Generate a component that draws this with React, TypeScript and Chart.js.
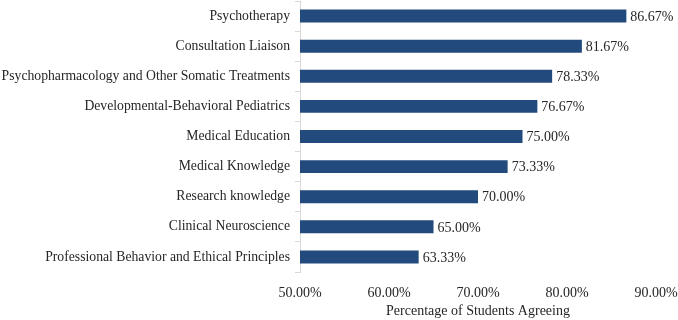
import React, { useEffect, useRef } from "react";
import { Chart, registerables } from "chart.js";

Chart.register(...registerables);

const categories = [
  "Psychotherapy",
  "Consultation Liaison",
  "Psychopharmacology and Other Somatic Treatments",
  "Developmental-Behavioral Pediatrics",
  "Medical Education",
  "Medical Knowledge",
  "Research knowledge",
  "Clinical Neuroscience",
  "Professional Behavior and Ethical Principles",
];
const values = [86.67, 81.67, 78.33, 76.67, 75.0, 73.33, 70.0, 65.0, 63.33];
const xMin = 50;
const xMax = 90;
const xStep = 10;
const xTitle = "Percentage of Students Agreeing";

const FONT = "'Liberation Serif', 'Times New Roman', serif";

const valueLabels = {
  id: "valueLabels",
  afterDatasetsDraw(chart: any) {
    const ctx = chart.ctx;
    const meta = chart.getDatasetMeta(0);
    ctx.save();
    ctx.font = `14px ${FONT}`;
    ctx.fillStyle = "#262626";
    ctx.textAlign = "left";
    ctx.textBaseline = "middle";
    meta.data.forEach((bar: any, i: number) => {
      const v = chart.data.datasets[0].data[i] as number;
      ctx.fillText(v.toFixed(2) + "%", bar.x + 4, bar.y + 1);
    });
    ctx.restore();
  },
};

export default function App() {
  const ref = useRef<HTMLCanvasElement>(null);
  useEffect(() => {
    if (!ref.current) return;
    const chart = new Chart(ref.current, {
      type: "bar",
      data: {
        labels: categories,
        datasets: [
          {
            data: values,
            backgroundColor: "#234a7c",
            borderWidth: 0,
            barPercentage: 0.86,
            categoryPercentage: 0.5,
          },
        ],
      },
      options: {
        indexAxis: "y",
        animation: false,
        responsive: false,
        maintainAspectRatio: false,
        layout: { padding: { top: 1, right: 22, left: 0, bottom: 0 } },
        plugins: {
          legend: { display: false },
          tooltip: { enabled: false },
        },
        scales: {
          x: {
            min: xMin,
            max: xMax,
            ticks: {
              stepSize: xStep,
              color: "#262626",
              font: { family: FONT, size: 14 },
              padding: 5,
              callback: (v: any) => Number(v).toFixed(2) + "%",
              maxRotation: 0,
            },
            grid: { display: false },
            border: { display: false },
            title: {
              display: true,
              text: xTitle,
              color: "#262626",
              font: { family: FONT, size: 14 },
              padding: { top: 2, bottom: 0 },
            },
            afterFit: (s: any) => {
              s.height = 48;
              s.paddingLeft = 0;
              s.paddingRight = 0;
            },
          },
          y: {
            ticks: {
              color: "#262626",
              font: { family: FONT, size: 13.7 },
              padding: 5,
            },
            grid: {
              display: true,
              drawOnChartArea: false,
              drawTicks: true,
              tickLength: 5,
              color: "#d9d9d9",
              offset: true,
            },
            border: { display: true, color: "#d9d9d9" },
            afterFit: (s: any) => {
              s.width = 300;
              s.paddingTop = 0;
              s.paddingBottom = 0;
            },
          },
        },
      },
      plugins: [valueLabels],
    });
    return () => chart.destroy();
  }, []);
  return (
    <div style={{ position: "fixed", left: 0, top: 0, width: 678, height: 320, background: "#fff" }}>
      <canvas ref={ref} width={678} height={320} />
    </div>
  );
}
